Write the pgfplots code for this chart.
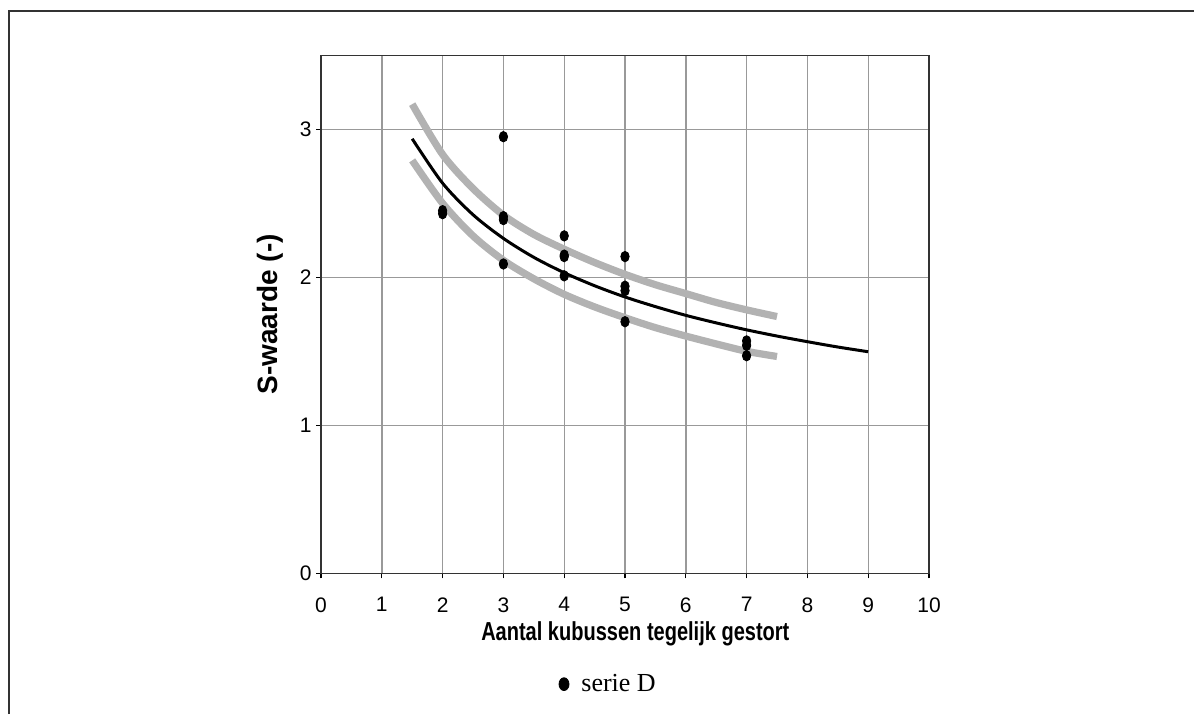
\documentclass[border=0pt]{standalone}
\usepackage{pgfplots}
\pgfplotsset{compat=1.18}
\usepackage{fontspec}
\setmainfont{Liberation Serif}
\newfontfamily\arial{Liberation Sans}
\begin{document}
\begin{tikzpicture}
\path[use as bounding box] (0,0) rectangle (597pt,357pt);
\draw[black!80, line width=0.6pt] (4.5pt,0) -- (4.5pt,351.5pt) -- (597pt,351.5pt);
\begin{axis}[
  at={(160.5pt,70.35pt)}, anchor=south west,
  scale only axis, width=304pt, height=259pt,
  xmin=0, xmax=10, ymin=0, ymax=3.5,
  xtick={0,1,...,10}, ytick={0,1,2,3},
  grid=major,
  major grid style={black!40, line width=0.7pt},
  axis line style={black!80, line width=0.8pt},
  tick align=outside, major tick length=2.5pt,
  tick style={black, line width=0.6pt},
  xtick pos=left, ytick pos=left,
  tick label style={font=\arial\fontsize{10.5}{12}\selectfont},
  xticklabel style={yshift=-6pt},
  yticklabel style={xshift=1.3pt},
  /pgf/number format/assume math mode=true,
  xlabel={\scalebox{0.77}[1]{Aantal kubussen tegelijk gestort}},
  ylabel={S-waarde (-)},
  xlabel style={font=\arial\bfseries\fontsize{13}{15}\selectfont,
    at={(axis description cs:0.517,-0.117)}, anchor=center},
  ylabel style={font=\arial\bfseries\fontsize{14}{16}\selectfont,
    at={(axis description cs:-0.0839,0.5)}, anchor=center},
  legend style={at={(0.474,-0.214)}, anchor=center, draw=none, fill=none,
    font=\fontsize{13}{15}\selectfont, inner sep=1pt},
  legend image code/.code={\fill[black] (0,0) ellipse [x radius=2.5pt, y radius=3.2pt];},
  legend cell align=left,
  clip=false,
]
\addplot[only marks, mark=*, mark size=2.1pt, mark options={black, fill=black, yscale=1.25}]
coordinates {
(2,2.43) (2,2.45)
(3,2.95) (3,2.39) (3,2.41) (3,2.09)
(4,2.28) (4,2.15) (4,2.14) (4,2.01)
(5,2.14) (5,1.91) (5,1.94) (5,1.70)
(7,1.57) (7,1.54) (7,1.47)
};
\addlegendentry{\hspace{4pt}serie D}
\addplot[black!30, line width=3.6pt, smooth, forget plot] coordinates {
(1.5,3.17) (2,2.83) (2.5,2.60) (3,2.42) (3.5,2.29) (4,2.19) (4.5,2.10) (5,2.02) (5.5,1.95) (6,1.89) (6.5,1.83) (7,1.78) (7.5,1.735)
};
\addplot[black!30, line width=3.6pt, smooth, forget plot] coordinates {
(1.5,2.79) (2,2.50) (2.5,2.28) (3,2.115) (3.5,1.99) (4,1.885) (4.5,1.80) (5,1.727) (5.5,1.66) (6,1.603) (6.5,1.55) (7,1.50) (7.5,1.465)
};
\addplot[black, line width=1.5pt, smooth, forget plot] coordinates {
(1.5,2.936) (2,2.636) (2.5,2.423) (3,2.263) (3.5,2.135) (4,2.031) (4.5,1.943) (5,1.867) (5.5,1.802) (6,1.743) (6.5,1.692) (7,1.645) (7.5,1.603) (8,1.565) (8.5,1.529) (9,1.497)
};
\end{axis}
\end{tikzpicture}
\end{document}
